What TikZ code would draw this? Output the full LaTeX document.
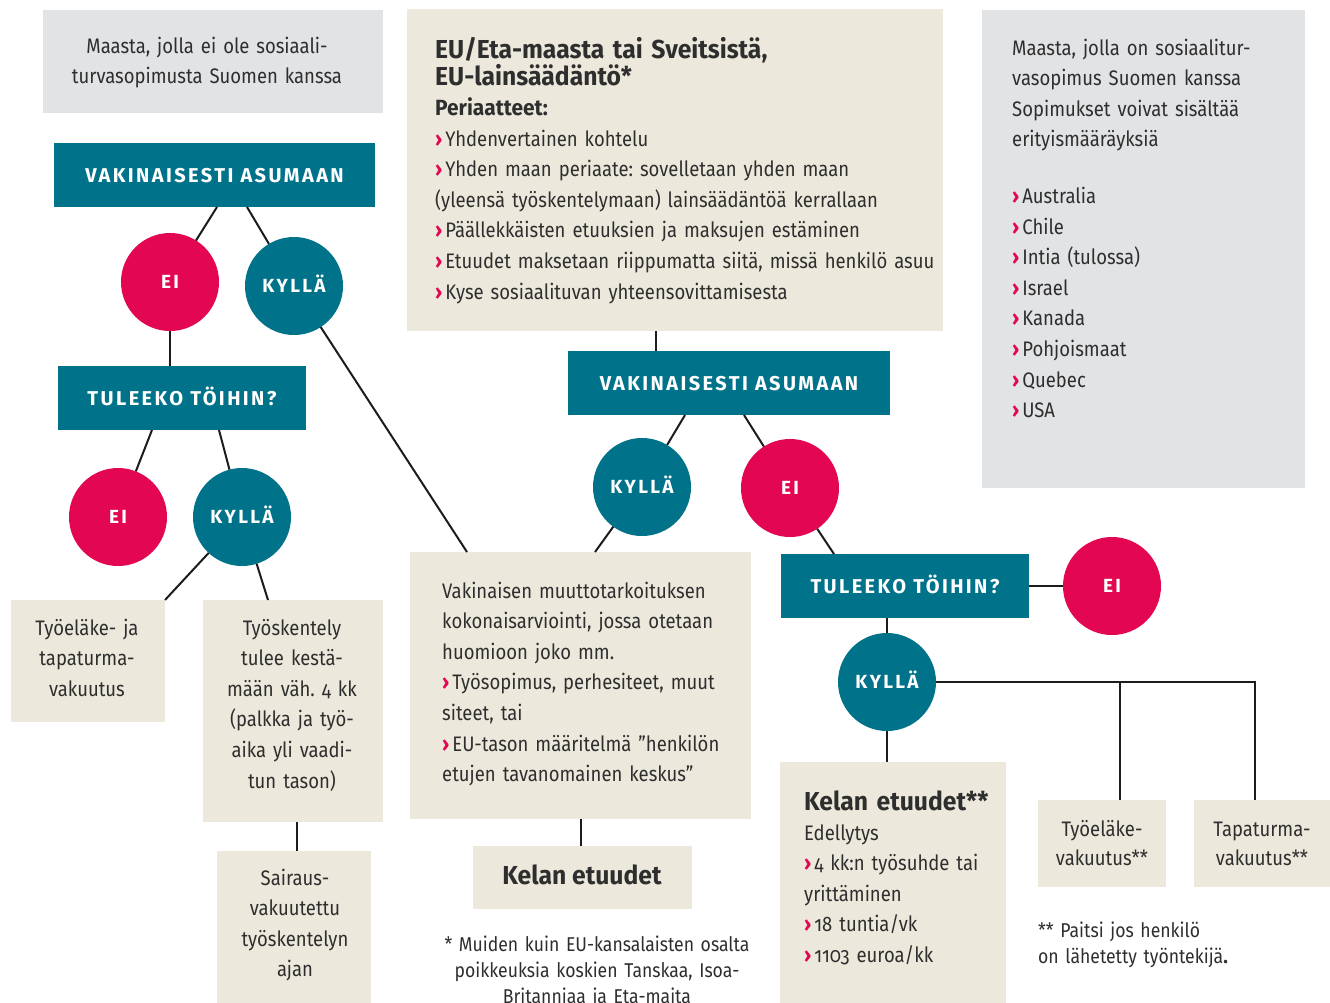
\documentclass[tikz,border=0pt]{standalone}
\usepackage{fontspec}
\setmainfont{Fira Sans}[Numbers=OldStyle, UprightFeatures={FakeStretch=0.88}, BoldFeatures={FakeStretch=0.95}]
\newfontfamily\capsfont{Fira Sans}[LetterSpace=12]
\usetikzlibrary{calc}
\definecolor{kteal}{HTML}{00728A}
\definecolor{kmag}{HTML}{E30652}
\definecolor{kbeige}{HTML}{ECE9DC}
\definecolor{kgray}{HTML}{E2E3E5}
\definecolor{ktext}{HTML}{2E2E2E}
\definecolor{kline}{HTML}{1C1C1C}
\newcommand\kb{{\bfseries\color{kmag}›}\hspace{3pt}}
\frenchspacing
\tikzset{
  box/.style={anchor=north west, inner sep=0, outer sep=0, draw=none},
  graybox/.style={box, fill=kgray},
  beigebox/.style={box, fill=kbeige},
  qbox/.style={fill=kteal, text=white, inner sep=0, outer sep=0, minimum height=64,
    text height=14, text depth=0, font=\capsfont\bfseries\fontsize{20}{20}\selectfont},
  ans/.style={circle, minimum size=98, inner sep=0, outer sep=0, text=white,
    text height=13, text depth=0, font=\capsfont\bfseries\fontsize{19}{19}\selectfont},
  yes/.style={ans, fill=kteal},
  no/.style={ans, fill=kmag},
  body/.style={inner sep=0, text=ktext, font=\fontsize{21}{30.6}\selectfont},
  txt/.style={body, anchor=base west, align=left, text width=#1},
  ctxt/.style={body, anchor=base, align=center, text width=#1},
  note/.style={inner sep=0, text=ktext, font=\fontsize{20}{26}\selectfont},
  conn/.style={draw=kline, line width=2pt},
}
\begin{document}
\begin{tikzpicture}[x=1pt,y=-1pt]
\useasboundingbox (0,0) rectangle (1330,1002);
% boxes
\node[graybox, minimum width=340, minimum height=103] (g1) at (43,10) {};
\node[beigebox, minimum width=536, minimum height=322] (eubox) at (407,9) {};
\node[graybox, minimum width=323, minimum height=478] (g2) at (982,10) {};
\node[beigebox, minimum width=154, minimum height=122] (tyoel) at (11,600) {};
\node[beigebox, minimum width=180, minimum height=222] (tyosk) at (203,600) {};
\node[beigebox, minimum width=154, minimum height=170] (sair) at (217,851) {};
\node[beigebox, minimum width=341, minimum height=267] (vakin) at (410,552) {};
\node[beigebox, minimum width=219, minimum height=63] (kelan) at (473,846) {};
\node[beigebox, minimum width=226, minimum height=260] (kelan2) at (780,762) {};
\node[beigebox, minimum width=128, minimum height=87] (tyoel2) at (1038,800) {};
\node[beigebox, minimum width=140, minimum height=87] (tapa) at (1194,800) {};
% question boxes
\node[qbox, minimum width=321] (vak1) at (214.5,175) {VAKINAISESTI ASUMAAN};
\node[qbox, minimum width=248] (tul1) at (182,398) {TULEEKO TÖIHIN?};
\node[qbox, minimum width=322] (vak2) at (729,383) {VAKINAISESTI ASUMAAN};
\node[qbox, minimum width=248] (tul2) at (905,586) {TULEEKO TÖIHIN?};
% answer circles
\node[no] (no1) at (170,282) {EI};
\node[yes] (yes1) at (294,286) {KYLLÄ};
\node[no] (no2) at (118,517) {EI};
\node[yes] (yes2) at (242,517) {KYLLÄ};
\node[yes] (yes3) at (642,487) {KYLLÄ};
\node[no] (no3) at (790,488) {EI};
\node[no] (no4) at (1112,586) {EI};
\node[yes] (yes4) at (887,682) {KYLLÄ};
% texts
\node[ctxt=330] (t1) at (207,53) {Maasta, jolla ei ole sosiaali-\\turvasopimusta Suomen kanssa};
\node[txt=500, font=\bfseries\fontsize{26}{27}\selectfont] (t2a) at (435,58) {EU/Eta-maasta tai Sveitsistä,\\EU-lainsäädäntö*};
\node[txt=300, font=\bfseries\fontsize{22}{27}\selectfont] (t2b) at (435,115) {Periaatteet:};
\node[txt=600] (t2c) at (435,146) {\kb Yhdenvertainen kohtelu\\
\kb Yhden maan periaate: sovelletaan yhden maan\\
(yleensä työskentelymaan) lainsäädäntöä kerrallaan\\
\kb Päällekkäisten etuuksien ja maksujen estäminen\\
\kb Etuudet maksetaan riippumatta siitä, missä henkilö asuu\\
\kb Kyse sosiaalituvan yhteensovittamisesta};
\node[txt=300] (t3) at (1012,55) {Maasta, jolla on sosiaalitur-\\vasopimus Suomen kanssa\\Sopimukset voivat sisältää\\erityismääräyksiä\\[26pt]
\kb Australia\\\kb Chile\\\kb Intia (tulossa)\\\kb Israel\\\kb Kanada\\\kb Pohjoismaat\\\kb Quebec\\\kb USA};
\node[ctxt=150] (t4) at (87,635) {Työeläke- ja\\tapaturma-\\vakuutus};
\node[ctxt=175] (t5) at (292,635) {Työskentely\\tulee kestä-\\mään väh. 4 kk\\(palkka ja työ-\\aika yli vaadi-\\tun tason)};
\node[ctxt=150] (t6) at (295,885) {Sairaus-\\vakuutettu\\työskentelyn\\ajan};
\node[txt=330] (t7) at (442,598) {Vakinaisen muuttotarkoituksen\\kokonaisarviointi, jossa otetaan\\huomioon joko mm.\\\kb Työsopimus, perhesiteet, muut\\siteet, tai\\\kb EU-tason määritelmä ”henkilön\\etujen tavanomainen keskus”};
\node[inner sep=0, anchor=base, text=ktext, font=\bfseries\fontsize{26}{26}\selectfont] (t8) at (582,884) {Kelan etuudet};
\node[note, anchor=base, align=center, text width=380] (t9) at (597,951) {* Muiden kuin EU-kansalaisten osalta\\poikkeuksia koskien Tanskaa, Isoa-\\Britanniaa ja Eta-maita};
\node[txt=220, font=\bfseries\fontsize{26}{26}\selectfont] (t10a) at (804,810) {Kelan etuudet**};
\node[txt=220] (t10b) at (804,840) {Edellytys\\\kb 4 kk:n työsuhde tai\\yrittäminen\\\kb 18 tuntia/vk\\\kb 1103 euroa/kk};
\node[ctxt=125, font=\fontsize{21}{29}\selectfont] (t11) at (1102,836) {Työeläke-\\vakuutus**};
\node[ctxt=140, font=\fontsize{21}{29}\selectfont] (t12) at (1262,836) {Tapaturma-\\vakuutus**};
\node[note, anchor=base west, align=left, text width=280] (t13) at (1038,937) {** Paitsi jos henkilö\\on lähetetty työntekijä\textbf{.}};
% connectors
\draw[conn] ([xshift=163pt]vak1.south west) -- (no1);
\draw[conn] ([xshift=193pt]vak1.south west) -- (yes1);
\draw[conn] (no1.south) -- (no1.south |- tul1.north);
\draw[conn] ([xshift=94pt]tul1.south west) -- (no2);
\draw[conn] ([xshift=161pt]tul1.south west) -- (yes2);
\draw[conn] (tyoel.north east) -- (yes2);
\draw[conn] ([xshift=65pt]tyosk.north west) -- (yes2);
\draw[conn] ([xshift=94pt]tyosk.south west) -- ([xshift=94pt]tyosk.south west |- sair.north);
\draw[conn] ([xshift=57pt]vakin.north west) -- (yes1);
\draw[conn] ([xshift=88pt]vak2.north west) -- ([xshift=88pt]vak2.north west |- eubox.south);
\draw[conn] ([xshift=117pt]vak2.south west) -- (yes3);
\draw[conn] ([xshift=176pt]vak2.south west) -- (no3);
\draw[conn] ([xshift=185pt]vakin.north west) -- (yes3);
\draw[conn] ([xshift=53pt]tul2.north west) -- (no3);
\draw[conn] (vakin.south) -- (vakin.south |- kelan.north);
\draw[conn] (tul2.east) -- (no4);
\draw[conn] (yes4.north) -- (yes4.north |- tul2.south);
\draw[conn] (yes4.south) -- (yes4.south |- kelan2.north);
\draw[conn] (yes4.east) -| ([xshift=61pt]tapa.north west);
\draw[conn] ([xshift=82pt]tyoel2.north west) -- ([xshift=82pt]tyoel2.north west |- yes4.east);
\end{tikzpicture}
\end{document}
